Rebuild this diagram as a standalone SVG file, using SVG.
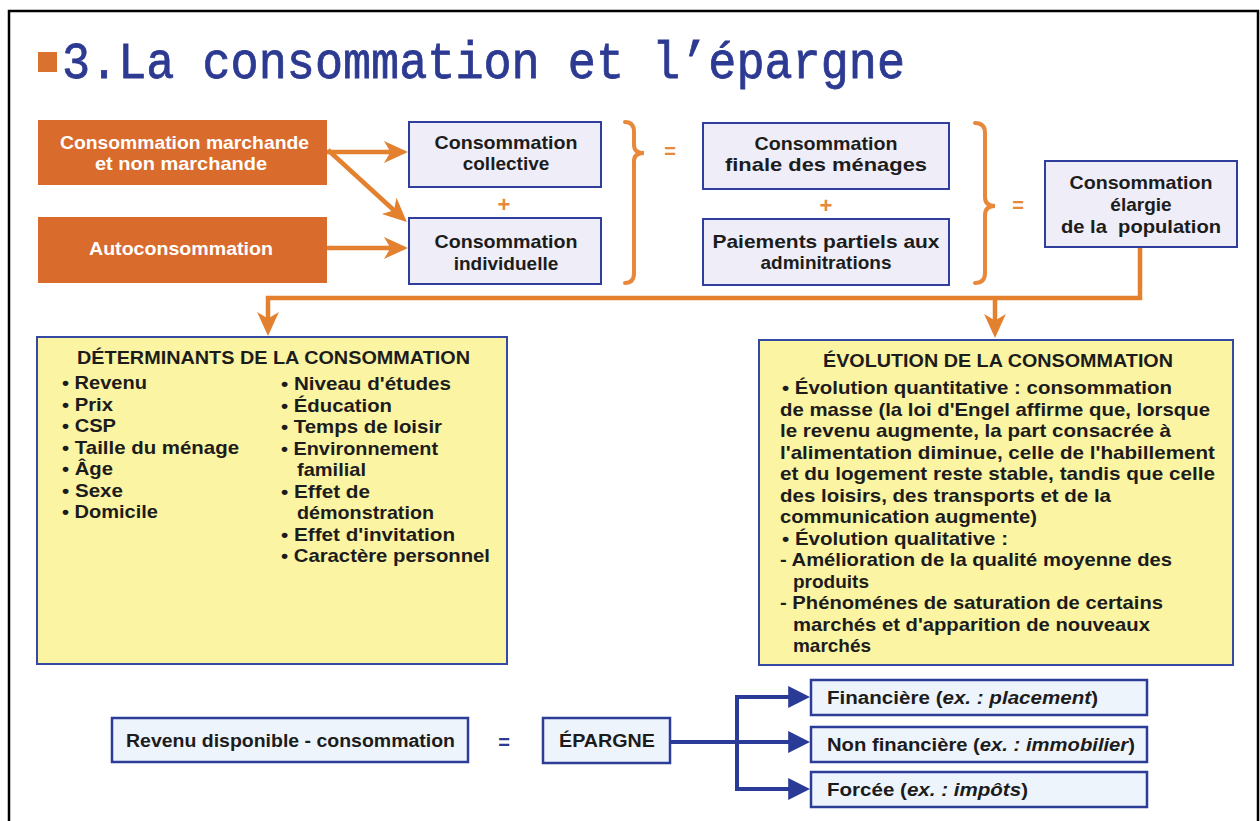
<svg xmlns="http://www.w3.org/2000/svg" width="1260" height="821" viewBox="0 0 1260 821">
<defs>
<style>
.t{font-family:"Liberation Sans",Arial,sans-serif;font-weight:bold;fill:#1c1c1c;}
.c{text-anchor:middle;}
.w{fill:#ffffff;}
.ob{fill:#d96b2c;}
.bb{fill:#eeedf8;stroke:#2f3e9c;stroke-width:2;}
.yb{fill:#fbf4a2;stroke:#3549a3;stroke-width:2;}
.lb{fill:#eef4fb;stroke:#2c3d98;stroke-width:2.5;}
.oc{fill:none;stroke:#e3812f;stroke-width:4.5;}
.nc{fill:none;stroke:#2a3a97;stroke-width:4;}
.br{fill:none;stroke:#e8883a;stroke-width:4;stroke-linecap:round;}
.op{font-family:"Liberation Sans",Arial,sans-serif;font-weight:bold;fill:#e8883a;text-anchor:middle;}
.it{font-style:italic;}
</style>
<marker id="ao" markerUnits="userSpaceOnUse" markerWidth="24" markerHeight="24" viewBox="0 0 22 22" refX="11" refY="11" orient="auto">
<path d="M0,1 L22,11 L0,21 L6,11 Z" fill="#e3812f"/>
</marker>
<marker id="an" markerUnits="userSpaceOnUse" markerWidth="22" markerHeight="22" viewBox="0 0 20 20" refX="8" refY="10" orient="auto">
<path d="M0,0 L20,10 L0,20 Z" fill="#2a3a97"/>
</marker>
</defs>

<rect x="9" y="11" width="1249" height="830" fill="#ffffff" stroke="#000000" stroke-width="2.5"/>

<g id="title">
<rect x="38" y="52" width="19" height="20" fill="#d9722e"/>
<text x="62" y="78" font-family="'Liberation Mono','Courier New',monospace" font-size="52" fill="#2c3a92" stroke="#2c3a92" stroke-width="0.8" textLength="843" lengthAdjust="spacingAndGlyphs">3.La consommation et l’épargne</text>
</g>

<g id="connectors">
<line class="oc" x1="327" y1="152" x2="396" y2="152" marker-end="url(#ao)"/>
<line class="oc" x1="328" y1="150" x2="398" y2="214" marker-end="url(#ao)"/>
<line class="oc" x1="327" y1="248" x2="396" y2="248" marker-end="url(#ao)"/>
<polyline class="oc" points="1140,247 1140,298 268,298 268,324" marker-end="url(#ao)"/>
<line class="oc" x1="995" y1="298" x2="995" y2="326" marker-end="url(#ao)"/>
<line class="nc" x1="670" y1="742" x2="797" y2="742" marker-end="url(#an)"/>
<line class="nc" x1="737" y1="696" x2="737" y2="790"/>
<line class="nc" x1="735" y1="697" x2="797" y2="697" marker-end="url(#an)"/>
<line class="nc" x1="735" y1="789" x2="797" y2="789" marker-end="url(#an)"/>
<path class="br" d="M625,122 Q634,122 634,132 L634,145 Q634,153 644,153 Q634,153 634,161 L634,273 Q634,283 625,283"/>
<path class="br" d="M975,123 Q985,123 985,133 L985,197 Q985,206 995,206 Q985,206 985,215 L985,273 Q985,283 975,283"/>
<text class="op" x="670" y="158" font-size="20">=</text>
<text class="op" x="1018" y="212" font-size="20">=</text>
<text class="op" x="504" y="212" font-size="22">+</text>
<text class="op" x="826" y="213" font-size="22">+</text>
<text x="504" y="749" font-family="'Liberation Sans',Arial,sans-serif" font-weight="bold" font-size="20" fill="#2a3a97" text-anchor="middle">=</text>
</g>

<g id="n-marchande">
<rect class="ob" x="38" y="120" width="289" height="65"/>
<text class="t w" x="60" y="149" font-size="19" textLength="249" lengthAdjust="spacingAndGlyphs">Consommation marchande</text>
<text class="t w" x="95" y="170" font-size="19" textLength="172" lengthAdjust="spacingAndGlyphs">et non marchande</text>
</g>
<g id="n-auto">
<rect class="ob" x="38" y="217" width="289" height="66"/>
<text class="t w" x="89" y="255" font-size="19" textLength="184" lengthAdjust="spacingAndGlyphs">Autoconsommation</text>
</g>
<g id="n-collective">
<rect class="bb" x="409" y="122" width="192" height="65"/>
<text class="t c" x="506" y="149" font-size="19" textLength="143" lengthAdjust="spacingAndGlyphs">Consommation</text>
<text class="t c" x="506" y="170" font-size="19">collective</text>
</g>
<g id="n-individuelle">
<rect class="bb" x="409" y="218" width="192" height="66"/>
<text class="t c" x="506" y="248" font-size="19" textLength="143" lengthAdjust="spacingAndGlyphs">Consommation</text>
<text class="t c" x="506" y="270" font-size="19">individuelle</text>
</g>
<g id="n-finale">
<rect class="bb" x="703" y="123" width="246" height="66"/>
<text class="t c" x="826" y="150" font-size="19" textLength="143" lengthAdjust="spacingAndGlyphs">Consommation</text>
<text class="t c" x="826" y="171" font-size="19" textLength="202" lengthAdjust="spacingAndGlyphs">finale des ménages</text>
</g>
<g id="n-paiements">
<rect class="bb" x="703" y="219" width="246" height="66"/>
<text class="t c" x="826" y="248" font-size="19" textLength="227" lengthAdjust="spacingAndGlyphs">Paiements partiels aux</text>
<text class="t c" x="826" y="269" font-size="19">adminitrations</text>
</g>
<g id="n-elargie">
<rect class="bb" x="1045" y="161" width="192" height="86"/>
<text class="t c" x="1141" y="189" font-size="19" textLength="143" lengthAdjust="spacingAndGlyphs">Consommation</text>
<text class="t c" x="1141" y="211" font-size="19">élargie</text>
<text class="t c" x="1141" y="233" font-size="19" style="white-space:pre" textLength="160" lengthAdjust="spacingAndGlyphs">de la  population</text>
</g>

<g id="n-determinants">
<rect class="yb" x="37" y="337" width="470" height="327"/>
<text class="t" x="77" y="364" font-size="19" textLength="393" lengthAdjust="spacingAndGlyphs">DÉTERMINANTS DE LA CONSOMMATION</text>
<text class="t" x="62" y="389" font-size="19" textLength="85" lengthAdjust="spacingAndGlyphs">• Revenu</text>
<text class="t" x="62" y="410.5" font-size="19" textLength="51" lengthAdjust="spacingAndGlyphs">• Prix</text>
<text class="t" x="62" y="432" font-size="19" textLength="54" lengthAdjust="spacingAndGlyphs">• CSP</text>
<text class="t" x="62" y="453.5" font-size="19" textLength="177" lengthAdjust="spacingAndGlyphs">• Taille du ménage</text>
<text class="t" x="62" y="475" font-size="19" textLength="51" lengthAdjust="spacingAndGlyphs">• Âge</text>
<text class="t" x="62" y="496.5" font-size="19" textLength="61" lengthAdjust="spacingAndGlyphs">• Sexe</text>
<text class="t" x="62" y="518" font-size="19" textLength="96" lengthAdjust="spacingAndGlyphs">• Domicile</text>
<text class="t" x="281" y="390" font-size="19" textLength="170" lengthAdjust="spacingAndGlyphs">• Niveau d'études</text>
<text class="t" x="281" y="411.5" font-size="19" textLength="111" lengthAdjust="spacingAndGlyphs">• Éducation</text>
<text class="t" x="281" y="433" font-size="19" textLength="161" lengthAdjust="spacingAndGlyphs">• Temps de loisir</text>
<text class="t" x="281" y="454.5" font-size="19" textLength="157" lengthAdjust="spacingAndGlyphs">• Environnement</text>
<text class="t" x="297" y="476" font-size="19" textLength="69" lengthAdjust="spacingAndGlyphs">familial</text>
<text class="t" x="281" y="497.5" font-size="19" textLength="89" lengthAdjust="spacingAndGlyphs">• Effet de</text>
<text class="t" x="297" y="519" font-size="19" textLength="137" lengthAdjust="spacingAndGlyphs">démonstration</text>
<text class="t" x="281" y="540.5" font-size="19" textLength="174" lengthAdjust="spacingAndGlyphs">• Effet d'invitation</text>
<text class="t" x="281" y="562" font-size="19" textLength="209" lengthAdjust="spacingAndGlyphs">• Caractère personnel</text>
</g>

<g id="n-evolution">
<rect class="yb" x="759" y="340" width="474" height="325"/>
<text class="t" x="823" y="367" font-size="19" textLength="350" lengthAdjust="spacingAndGlyphs">ÉVOLUTION DE LA CONSOMMATION</text>
<text class="t" x="782" y="394" font-size="19" textLength="390" lengthAdjust="spacingAndGlyphs">• Évolution quantitative : consommation</text>
<text class="t" x="780" y="415.5" font-size="19" textLength="430" lengthAdjust="spacingAndGlyphs">de masse (la loi d'Engel affirme que, lorsque</text>
<text class="t" x="780" y="437" font-size="19" textLength="391" lengthAdjust="spacingAndGlyphs">le revenu augmente, la part consacrée à</text>
<text class="t" x="780" y="458.5" font-size="19" textLength="435" lengthAdjust="spacingAndGlyphs">l'alimentation diminue, celle de l'habillement</text>
<text class="t" x="780" y="480" font-size="19" textLength="435" lengthAdjust="spacingAndGlyphs">et du logement reste stable, tandis que celle</text>
<text class="t" x="780" y="501.5" font-size="19" textLength="331" lengthAdjust="spacingAndGlyphs">des loisirs, des transports et de la</text>
<text class="t" x="780" y="523" font-size="19" textLength="257" lengthAdjust="spacingAndGlyphs">communication augmente)</text>
<text class="t" x="782" y="544.5" font-size="19" textLength="226" lengthAdjust="spacingAndGlyphs">• Évolution qualitative :</text>
<text class="t" x="780" y="566" font-size="19" textLength="392" lengthAdjust="spacingAndGlyphs">- Amélioration de la qualité moyenne des</text>
<text class="t" x="793" y="587.5" font-size="19" textLength="76" lengthAdjust="spacingAndGlyphs">produits</text>
<text class="t" x="780" y="609" font-size="19" textLength="383" lengthAdjust="spacingAndGlyphs">- Phénoménes de saturation de certains</text>
<text class="t" x="793" y="630.5" font-size="19" textLength="357" lengthAdjust="spacingAndGlyphs">marchés et d'apparition de nouveaux</text>
<text class="t" x="793" y="652" font-size="19" textLength="78" lengthAdjust="spacingAndGlyphs">marchés</text>
</g>

<g id="n-revenu">
<rect class="lb" x="112" y="718" width="356" height="44"/>
<text class="t" x="126" y="747" font-size="18" textLength="329" lengthAdjust="spacingAndGlyphs" fill="#222">Revenu disponible - consommation</text>
</g>
<g id="n-epargne">
<rect class="lb" x="543" y="718" width="127" height="45"/>
<text class="t" x="559" y="747" font-size="18" textLength="96" lengthAdjust="spacingAndGlyphs">ÉPARGNE</text>
</g>
<g id="n-financiere">
<rect class="lb" x="811" y="680" width="336" height="35"/>
<text class="t" x="827" y="704" font-size="18" textLength="271" lengthAdjust="spacingAndGlyphs">Financière (<tspan class="it">ex. : placement</tspan>)</text>
</g>
<g id="n-nonfinanciere">
<rect class="lb" x="811" y="727" width="336" height="35"/>
<text class="t" x="827" y="751" font-size="18" textLength="308" lengthAdjust="spacingAndGlyphs">Non financière (<tspan class="it">ex. : immobilier</tspan>)</text>
</g>
<g id="n-forcee">
<rect class="lb" x="811" y="772" width="336" height="35"/>
<text class="t" x="827" y="796" font-size="18" textLength="201" lengthAdjust="spacingAndGlyphs">Forcée (<tspan class="it">ex. : impôts</tspan>)</text>
</g>
</svg>
